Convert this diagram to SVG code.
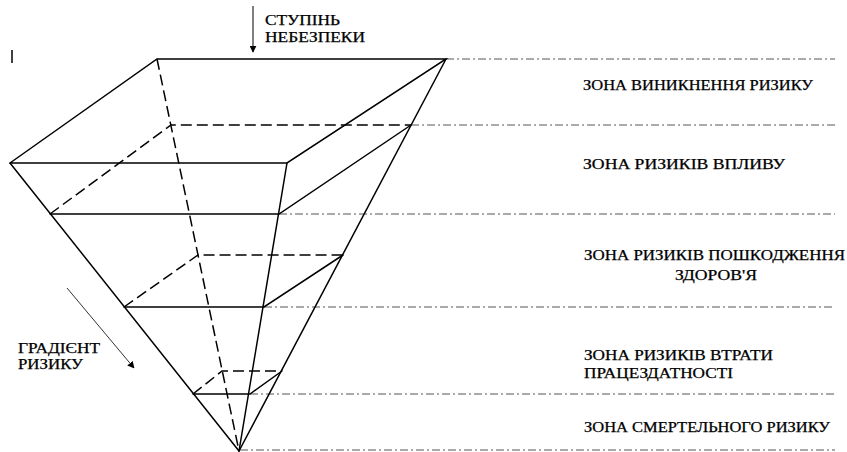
<svg xmlns="http://www.w3.org/2000/svg" width="847" height="452" viewBox="0 0 847 452">
<defs>
<marker id="ah" viewBox="0 0 10 10" refX="9" refY="5" markerWidth="7" markerHeight="7" markerUnits="userSpaceOnUse" orient="auto">
<path d="M0,0 L10,5 L0,10 z" fill="#000"/>
</marker>
<style>
.s{stroke:#000;stroke-width:1.5;fill:none;stroke-linecap:round}
.d{stroke:#000;stroke-width:1.5;fill:none;stroke-dasharray:11 5}
.dd{stroke:#555;stroke-width:1;fill:none;stroke-dasharray:8 3 2 3}
.t{font-family:"Liberation Serif","DejaVu Serif","Times New Roman",serif;font-size:14px;fill:#000;stroke:#000;stroke-width:0.25}
</style>
</defs>
<rect width="847" height="452" fill="#fff"/>
<g id="zone-lines">
<line class="dd" x1="446" y1="59" x2="835" y2="59"/>
<line class="dd" x1="411" y1="125" x2="835" y2="125"/>
<line class="dd" x1="279" y1="214" x2="835" y2="214"/>
<line class="dd" x1="264" y1="307" x2="835" y2="307"/>
<line class="dd" x1="250" y1="394" x2="835" y2="394"/>
<line class="dd" x1="240" y1="450" x2="835" y2="450"/>
</g>
<g id="pyramid">
<line class="d" x1="157" y1="59" x2="239" y2="451"/>
<polyline class="s" points="10,163 157,59 446,59 287,163 10,163"/>
<line class="s" x1="10" y1="163" x2="239" y2="451"/>
<line class="s" x1="287" y1="163" x2="239" y2="451"/>
<line class="s" x1="446" y1="59" x2="239" y2="451"/>
</g>
<g id="level2">
<polyline class="d" points="50,214 171,125 411,125"/>
<polyline class="s" points="50,214 279,214 411,125"/>
</g>
<g id="level3">
<polyline class="d" points="124,307 198,255 343,255"/>
<polyline class="s" points="124,307 264,307 343,255"/>
</g>
<g id="level4">
<polyline class="d" points="193,394 222,371 282,371"/>
<polyline class="s" points="193,394 250,394 282,371"/>
</g>
<line x1="12" y1="50" x2="12" y2="63" stroke="#000" stroke-width="1.5"/>
<g id="danger">
<line x1="253" y1="6" x2="253" y2="52" stroke="#000" stroke-width="1" marker-end="url(#ah)"/>
<text class="t" x="265" y="25" textLength="75" lengthAdjust="spacingAndGlyphs">СТУПІНЬ</text>
<text class="t" x="265" y="42" textLength="100" lengthAdjust="spacingAndGlyphs">НЕБЕЗПЕКИ</text>
</g>
<g id="gradient">
<line x1="67" y1="288" x2="134" y2="368" stroke="#333" stroke-width="1" marker-end="url(#ah)"/>
<text class="t" x="18" y="353" textLength="82" lengthAdjust="spacingAndGlyphs">ГРАДІЄНТ</text>
<text class="t" x="18" y="369" textLength="65" lengthAdjust="spacingAndGlyphs">РИЗИКУ</text>
</g>
<g id="labels">
<text class="t" x="583" y="90" textLength="230" lengthAdjust="spacingAndGlyphs">ЗОНА ВИНИКНЕННЯ РИЗИКУ</text>
<text class="t" x="583" y="169" textLength="202" lengthAdjust="spacingAndGlyphs">ЗОНА РИЗИКІВ ВПЛИВУ</text>
<text class="t" x="584" y="260" textLength="261" lengthAdjust="spacingAndGlyphs">ЗОНА РИЗИКІВ ПОШКОДЖЕННЯ</text>
<text class="t" x="675" y="280" textLength="82" lengthAdjust="spacingAndGlyphs">ЗДОРОВ'Я</text>
<text class="t" x="584" y="360" textLength="189" lengthAdjust="spacingAndGlyphs">ЗОНА РИЗИКІВ ВТРАТИ</text>
<text class="t" x="584" y="378" textLength="149" lengthAdjust="spacingAndGlyphs">ПРАЦЕЗДАТНОСТІ</text>
<text class="t" x="584" y="432" textLength="246" lengthAdjust="spacingAndGlyphs">ЗОНА СМЕРТЕЛЬНОГО РИЗИКУ</text>
</g>
</svg>
